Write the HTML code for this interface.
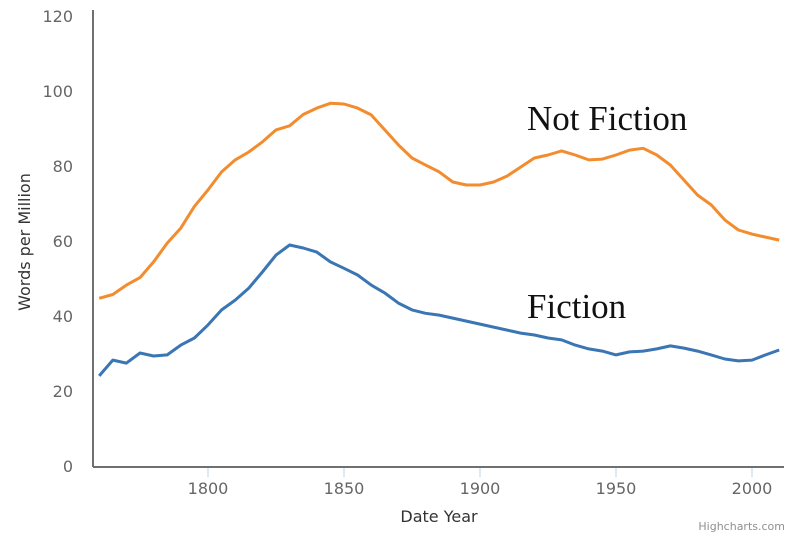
<!DOCTYPE html>
<html><head><meta charset="utf-8"><style>
body{margin:0;background:#fff;width:800px;height:545px;overflow:hidden}
svg{display:block}
</style></head><body>
<svg id="chart" width="800" height="545" xmlns="http://www.w3.org/2000/svg" font-family="DejaVu Sans, Liberation Sans, sans-serif">
<line x1="93" y1="10" x2="93" y2="467" stroke="#707070" stroke-width="2"/>
<line x1="93" y1="467" x2="784" y2="467" stroke="#707070" stroke-width="2"/>
<g id="yticks"></g><g id="xticks"></g>
<g id="series"></g>
<text transform="translate(30,242) rotate(-90)" text-anchor="middle" font-size="16" fill="#333">Words per Million</text>
<text x="439" y="522" text-anchor="middle" font-size="16" fill="#333">Date Year</text>
<text x="527" y="130" font-family="Liberation Serif, serif" font-size="35" fill="#111">Not Fiction</text>
<text x="527" y="318" font-family="Liberation Serif, serif" font-size="35" fill="#111">Fiction</text>
<text x="785" y="530" text-anchor="end" font-size="11" fill="#909090">Highcharts.com</text>
</svg>
<script>
const years=[1760,1765,1770,1775,1780,1785,1790,1795,1800,1805,1810,1815,1820,1825,1830,1835,1840,1845,1850,1855,1860,1865,1870,1875,1880,1885,1890,1895,1900,1905,1910,1915,1920,1925,1930,1935,1940,1945,1950,1955,1960,1965,1970,1975,1980,1985,1990,1995,2000,2005,2010];
const notFiction=[45,46,48.5,50.5,54.7,59.7,63.7,69.5,73.9,78.7,81.9,84,86.7,89.9,91,94,95.7,97,96.8,95.7,93.9,89.9,85.9,82.4,80.5,78.7,76,75.2,75.2,76,77.6,80,82.4,83.2,84.3,83.2,81.9,82.1,83.2,84.5,85,83.2,80.5,76.5,72.5,69.9,65.9,63.2,62.1,61.3,60.5];
const fiction=[24.3,28.5,27.7,30.4,29.6,29.9,32.5,34.4,37.9,41.9,44.5,47.7,52,56.5,59.2,58.4,57.3,54.7,53,51.2,48.5,46.4,43.7,41.9,41,40.5,39.7,38.9,38.1,37.3,36.5,35.7,35.2,34.4,33.9,32.5,31.5,30.9,29.9,30.7,30.9,31.5,32.3,31.7,30.9,29.9,28.8,28.3,28.5,29.9,31.2];
const yTicks=[0,20,40,60,80,100,120];
const xTicks=[1800,1850,1900,1950,2000];
const NS='http://www.w3.org/2000/svg';
function xs(yr){return 208+(yr-1800)*2.72;}
function ys(v){return 467-v*3.75;}
const yg=document.getElementById('yticks'),xg=document.getElementById('xticks'),sg=document.getElementById('series');
yTicks.forEach(v=>{const t=document.createElementNS(NS,'text');


t.setAttribute('x',73);t.setAttribute('y',ys(v)+5);t.setAttribute('text-anchor','end');t.setAttribute('font-size','16');t.setAttribute('fill','#666');t.textContent=v;yg.appendChild(t);});
xTicks.forEach(v=>{const l=document.createElementNS(NS,'line');


l.setAttribute('x1',xs(v));l.setAttribute('x2',xs(v));l.setAttribute('y1',468);l.setAttribute('y2',477);l.setAttribute('stroke','#c0d0e0');xg.appendChild(l);
const t=document.createElementNS(NS,'text');


t.setAttribute('x',xs(v));t.setAttribute('y',494);t.setAttribute('text-anchor','middle');t.setAttribute('font-size','16');t.setAttribute('fill','#666');t.textContent=v;xg.appendChild(t);});
function draw(vals,color,name){const p=document.createElementNS(NS,'path');


p.setAttribute('d',vals.map((v,i)=>(i?'L':'M')+xs(years[i]).toFixed(1)+','+ys(v).toFixed(1)).join(''));
p.setAttribute('fill','none');p.setAttribute('stroke',color);p.setAttribute('stroke-width','3');p.setAttribute('stroke-linejoin','round');sg.appendChild(p);}
draw(notFiction,'#f28c2e','series-not-fiction');
draw(fiction,'#3a76b3','series-fiction');
</script>
</body></html>
